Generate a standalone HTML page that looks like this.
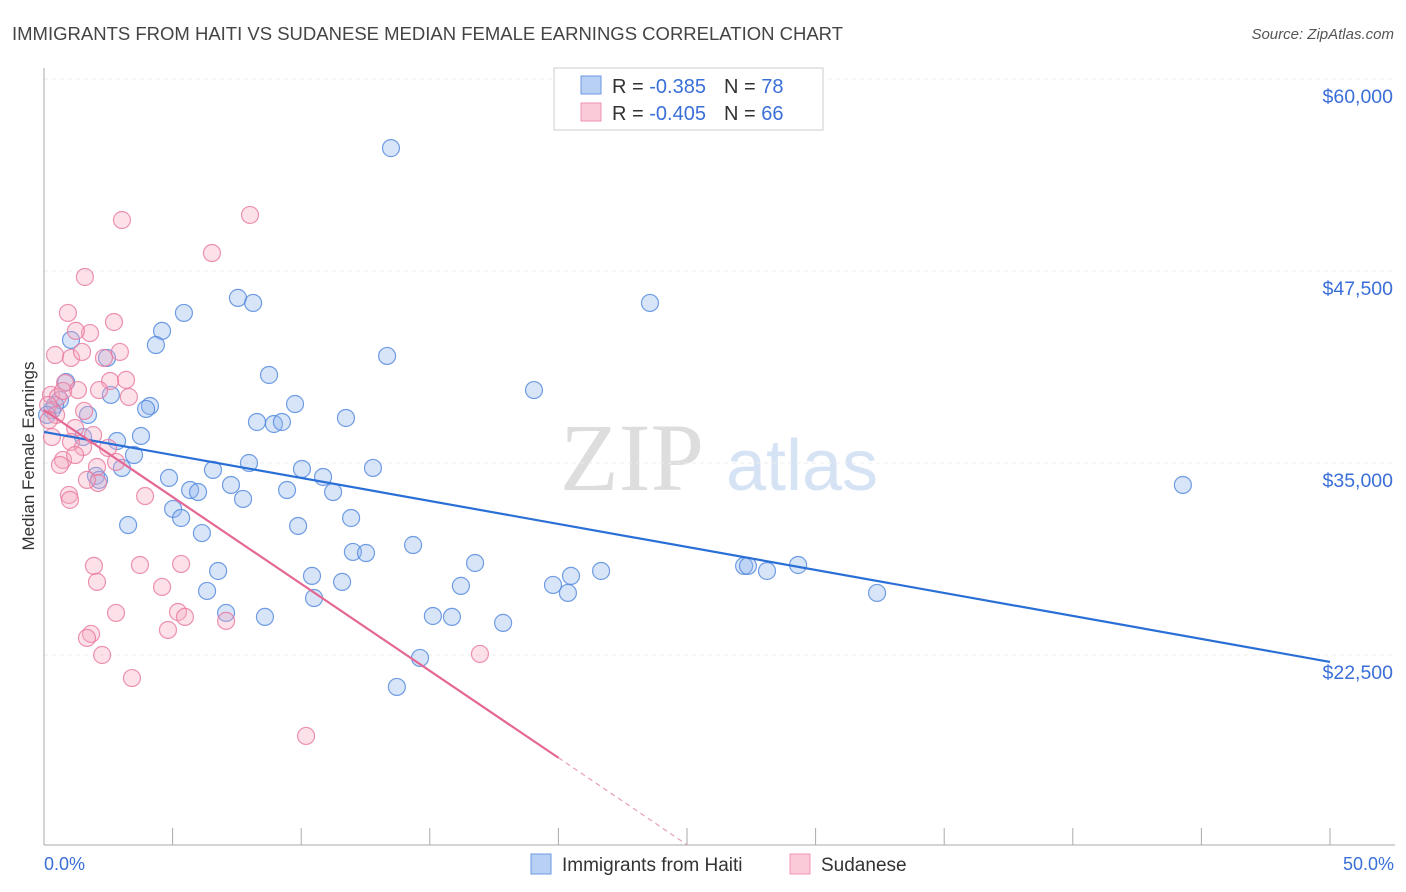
<!DOCTYPE html>
<html><head><meta charset="utf-8">
<style>
body{margin:0;background:#fff;font-family:"Liberation Sans",sans-serif;}
svg{display:block}
</style></head>
<body>
<svg id="chart" width="1406" height="892">
<text x="12" y="40" font-size="18.5" fill="#444" textLength="831" lengthAdjust="spacingAndGlyphs">IMMIGRANTS FROM HAITI VS SUDANESE MEDIAN FEMALE EARNINGS CORRELATION CHART</text>
<text x="1394" y="39" font-size="15" fill="#555" text-anchor="end" font-style="italic">Source: ZipAtlas.com</text>
<g>
<text x="632" y="490" font-size="96" fill="#ddd" font-family="Liberation Serif,serif" text-anchor="middle">ZIP</text>
<text x="802" y="490" font-size="72" fill="#d6e3f5" text-anchor="middle">atlas</text>
</g>
<g id="grid"></g>
<g id="axes"></g>
<g id="marks"></g>
<text transform="translate(34,456) rotate(-90)" font-size="17" fill="#333" text-anchor="middle">Median Female Earnings</text>
<text x="44" y="870" font-size="18" fill="#3a6fd8">0.0%</text>
<text x="1394" y="870" font-size="18" fill="#3a6fd8" text-anchor="end">50.0%</text>
<g>
<rect x="554" y="68" width="269" height="62" fill="#fff" stroke="#ccc"/>
<rect x="581" y="76" width="20" height="18" fill="#b7d0f3" stroke="#6b9ae0"/>
<rect x="581" y="103" width="20" height="18" fill="#fbcad8" stroke="#ee94b0"/>
<text x="612" y="93" font-size="20" fill="#333">R = <tspan fill="#3a6fd8">-0.385</tspan><tspan dx="18">N = </tspan><tspan fill="#3a6fd8">78</tspan></text>
<text x="612" y="120" font-size="20" fill="#333">R = <tspan fill="#3a6fd8">-0.405</tspan><tspan dx="18">N = </tspan><tspan fill="#3a6fd8">66</tspan></text>
</g>
<g>
<rect x="531" y="854" width="20" height="20" fill="#b7d0f3" stroke="#6b9ae0"/>
<text x="562" y="871" font-size="19" fill="#333">Immigrants from Haiti</text>
<rect x="790" y="854" width="20" height="20" fill="#fbcad8" stroke="#ee94b0"/>
<text x="821" y="871" font-size="19" fill="#333">Sudanese</text>
</g>
</svg>
<script>
const yTicks=[60000,47500,35000,22500];
const yTickLabels=["$60,000","$47,500","$35,000","$22,500"];
const xTicks=[0,5,10,15,20,25,30,35,40,45,50];
const haitiX=[13.49,7.54,8.13,5.44,4.59,4.35,1.05,13.34,2.45,8.75,0.86,19.05,2.60,0.62,0.43,4.12,3.97,9.76,11.74,8.28,8.94,9.25,1.71,3.77,2.84,1.52,3.50,7.97,10.03,12.79,6.57,10.85,4.86,2.02,2.14,7.27,5.68,5.99,9.45,11.24,7.74,5.02,5.33,11.94,3.27,9.88,6.14,14.35,12.01,12.52,16.76,6.77,10.42,11.59,16.21,19.79,20.49,21.66,20.37,27.22,27.37,28.11,29.32,32.39,6.34,10.50,7.08,8.59,15.12,15.86,17.85,14.62,13.72,44.28,23.56,3.03,0.31,0.12];
const haitiY=[55500,45750,45420,44770,43600,42680,43010,41970,41840,40730,40270,39750,39430,39100,38780,38710,38520,38840,37930,37670,37540,37670,38130,36760,36430,36690,35520,35000,34610,34680,34550,34090,34030,34160,33900,33570,33240,33110,33240,33110,32660,32010,31420,31420,30960,30900,30440,29660,29210,29140,28490,27970,27650,27260,27000,27060,27650,27970,26540,28300,28300,27970,28360,26540,26670,26210,25240,24980,25040,24980,24590,22310,20420,33570,45420,34680,38450,38130];
const sudanX=[8.01,3.03,6.53,1.59,0.93,2.72,1.79,1.24,0.43,1.05,1.48,2.95,2.33,2.57,3.19,0.82,1.32,0.27,0.54,2.14,3.30,0.16,1.56,0.47,0.19,1.21,1.91,1.05,1.52,0.74,0.62,2.06,1.21,2.80,2.10,3.93,0.97,5.33,1.94,3.73,2.06,4.59,5.21,2.80,5.48,7.08,4.82,1.83,1.67,2.26,3.42,16.95,10.19,0.74,0.31,2.49,1.67,1.01];
const sudanY=[51150,50820,48670,47110,44770,44180,43460,43600,42030,41840,42230,42230,41840,40340,40410,40210,39750,39430,39300,39750,39300,38780,38390,38130,37800,37280,36820,36370,36040,35200,34870,34740,35520,35070,33700,32850,32920,28430,28300,28360,27260,26930,25300,25240,24980,24720,24130,23870,23610,22500,21000,22570,17230,39690,36690,35980,33900,32600];
const haitiFit=[37020,22050];
const sudanFit=[38450,10150];
const sudanSolidEnd=20;

const NS="http://www.w3.org/2000/svg";
const X=p=>44+p/50*1286;
const Y=v=>79+(60000-v)/12500*192;
function mk(tag,attrs,parent){const e=document.createElementNS(NS,tag);for(const k in attrs)e.setAttribute(k,attrs[k]);parent.appendChild(e);return e;}
const grid=document.getElementById('grid'),axes=document.getElementById('axes'),marks=document.getElementById('marks');
yTicks.forEach((v,i)=>{
  const l=mk('line',{x1:44,x2:1395,y1:Y(v),y2:Y(v),stroke:'#ececec','stroke-dasharray':'4,4'},grid);
  
  
  const t=mk('text',{x:1393,y:Y(v)+24,'font-size':19.5,fill:'#3a6fd8','text-anchor':'end'},axes);
  t.textContent=yTickLabels[i];
  
  
});
const ax=mk('line',{x1:44,x2:1395,y1:845,y2:845,stroke:'#aaa'},axes);


const ay=mk('line',{x1:44,x2:44,y1:68,y2:845,stroke:'#aaa'},axes);


xTicks.forEach(p=>{
  const t=mk('line',{x1:X(p),x2:X(p),y1:828,y2:845,stroke:'#aaa'},axes);
  
  
});
function pts(xs,ys,fill,stroke,name){
  xs.forEach((x,i)=>{
    const c=mk('circle',{cx:X(x),cy:Y(ys[i]),r:8.5,fill:fill,'fill-opacity':0.35,stroke:stroke,'stroke-width':1.2,'stroke-opacity':0.8},marks);
    
    
  });
}
pts(haitiX,haitiY,'#8fb5ee','#4f86dd','haiti-point');
pts(sudanX,sudanY,'#f7a8c0','#e9789d','sudanese-point');
const bl=mk('line',{x1:X(0),y1:Y(haitiFit[0]),x2:X(50),y2:Y(haitiFit[1]),stroke:'#2a6fd6','stroke-width':2.2},marks);


const sv=v=>sudanFit[0]+(sudanFit[1]-sudanFit[0])*v/25;
const pl=mk('line',{x1:X(0),y1:Y(sudanFit[0]),x2:X(sudanSolidEnd),y2:Y(sv(sudanSolidEnd)),stroke:'#e56794','stroke-width':2.2},marks);


const pd=mk('line',{x1:X(sudanSolidEnd),y1:Y(sv(sudanSolidEnd)),x2:X(25),y2:Y(sudanFit[1]),stroke:'#e9a0b8','stroke-width':1.2,'stroke-dasharray':'5,4'},marks);


</script>
</body></html>
